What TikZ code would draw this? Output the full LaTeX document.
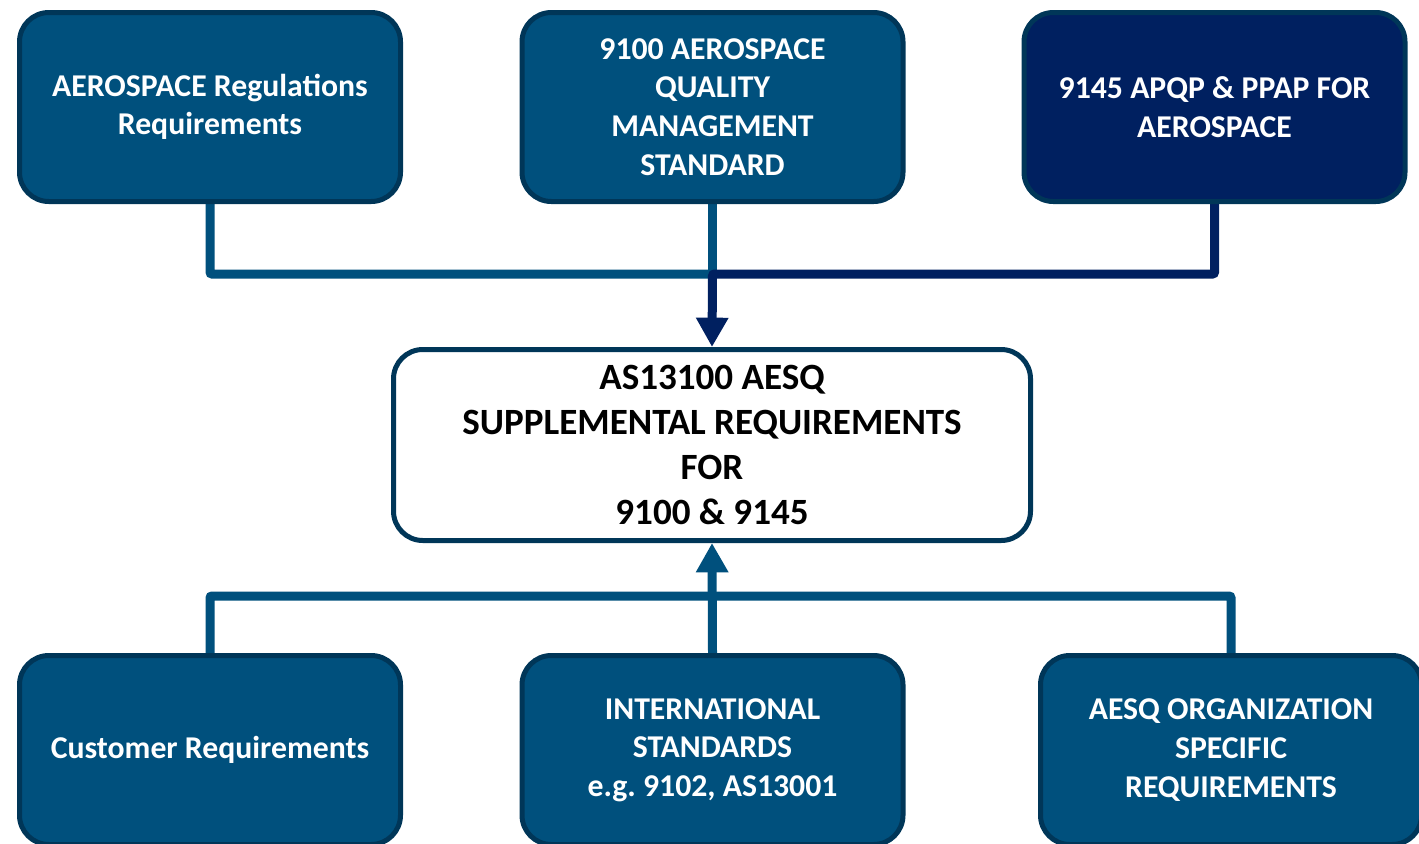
\documentclass[tikz,border=0pt]{standalone}
\usepackage{fontspec}
\setmainfont{Carlito}
\usetikzlibrary{arrows.meta,backgrounds}
\definecolor{boxblue}{RGB}{0,80,125}
\definecolor{bordblue}{RGB}{0,54,88}
\definecolor{navyblue}{RGB}{0,32,96}

\begin{document}
\begin{tikzpicture}[x=0.75pt,y=0.75pt,yscale=-1,xscale=1,
  reqbox/.style={draw=bordblue, line width=3.75pt, fill=boxblue, rounded corners=22pt,
    minimum width=285.75pt, minimum height=141.75pt, align=center, text=white,
    font=\fontsize{23.8}{29}\selectfont\bfseries},
  mainbox/.style={draw=bordblue, line width=3.75pt, fill=white, rounded corners=22pt,
    minimum width=477.75pt, minimum height=143.25pt, align=center, text=black,
    font=\fontsize{27.8}{33.75}\selectfont\bfseries},
  link/.style={line width=6.75pt, color=boxblue, rounded corners=1.5pt},
  feed/.style={-{Triangle[width=23pt,length=22pt]}}
]
%set diagram size to the reference
\useasboundingbox (0,0) rectangle (1419,843);
\clip (0,0) rectangle (1419,843);

% Top boxes
\node [reqbox] (regs) at (210,107) {AEROSPACE Regulations\\Requirements};
\node [reqbox] (qms) at (712.5,107) {9100 AEROSPACE\\QUALITY\\MANAGEMENT\\STANDARD};
\node [reqbox, fill=navyblue] (apqp) at (1214.5,107) {9145 APQP \& PPAP FOR\\AEROSPACE};

% Centre box
\node [mainbox] (aesq) at (712,445) {AS13100 AESQ\\SUPPLEMENTAL REQUIREMENTS\\FOR\\9100 \& 9145};

% Bottom boxes
\node [reqbox] (cust) at (210,750) {Customer Requirements};
\node [reqbox] (intl) at (712.5,750) {INTERNATIONAL\\STANDARDS\\e.g.\ 9102, AS13001};
\node [reqbox] (org) at (1231,750) {AESQ ORGANIZATION\\SPECIFIC\\REQUIREMENTS};

%Junction points
\coordinate (jtop) at (qms.south |- 0,274);
\coordinate (jbot) at (intl.north |- 0,596);

%Connectors
\begin{scope}[on background layer]
\draw [link] (regs.south) |- (jtop);
\draw [link] (qms.south) -- (jtop);
\draw [link] (cust.north) |- (jbot);
\draw [link] (org.north) |- (jbot);
\draw [link, color=navyblue, feed] (apqp.south) |- (jtop) -- (aesq.north);
\draw [link, feed] (intl.north) -- (aesq.south);
\end{scope}

\end{tikzpicture}
\end{document}
